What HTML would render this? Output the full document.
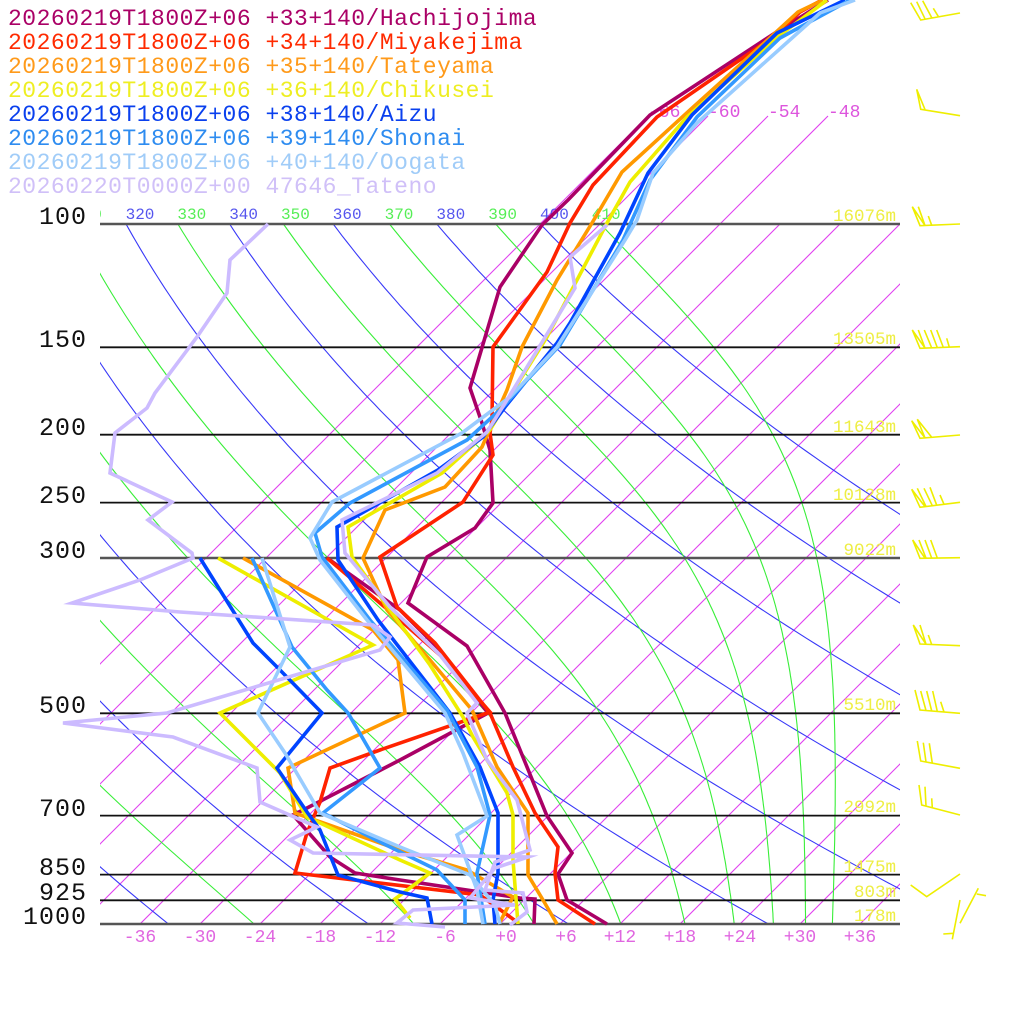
<!DOCTYPE html>
<html><head><meta charset="utf-8"><style>
html,body{margin:0;padding:0;background:#fff;}
svg{display:block;}
text{font-family:"Liberation Mono","DejaVu Sans Mono",monospace;}
</style></head><body>
<svg id="sk" xmlns="http://www.w3.org/2000/svg" width="1024" height="1024" viewBox="0 0 1024 1024">
<defs>
<clipPath id="pc"><rect x="100" y="224" width="800" height="700"/></clipPath>
<clipPath id="lc"><rect x="100" y="190" width="800" height="40"/></clipPath>
</defs>
<rect x="0" y="0" width="1024" height="1024" fill="#fff"/>
<g id="iso" clip-path="url(#pc)" stroke="#e040f0" stroke-width="1.1" fill="none"></g>
<g stroke="#e040f0" stroke-width="1.1">
<line x1="540" y1="224" x2="648" y2="116"/>
<line x1="600" y1="224" x2="708" y2="116"/>
<line x1="660" y1="224" x2="768" y2="116"/>
<line x1="720" y1="224" x2="828" y2="116"/>
</g>
<g id="dry" clip-path="url(#pc)" stroke="#3838f8" stroke-width="1.1" fill="none"></g>
<g id="moist" clip-path="url(#pc)" stroke="#38ee38" stroke-width="1.1" fill="none"></g>
<g stroke="#111" stroke-width="1.8">
<line x1="100" y1="347.3" x2="900" y2="347.3"/>
<line x1="100" y1="434.7" x2="900" y2="434.7"/>
<line x1="100" y1="502.6" x2="900" y2="502.6"/>
<line x1="100" y1="713.3" x2="900" y2="713.3"/>
<line x1="100" y1="815.6" x2="900" y2="815.6"/>
<line x1="100" y1="874.6" x2="900" y2="874.6"/>
<line x1="100" y1="900.3" x2="900" y2="900.3"/>
</g>
<g stroke="#555" stroke-width="2.5">
<line x1="100" y1="224" x2="900" y2="224"/>
<line x1="100" y1="558" x2="900" y2="558"/>
<line x1="100" y1="924" x2="900" y2="924"/>
</g>
<g font-size="16" clip-path="url(#lc)">
<text x="73" y="219" fill="#55ee55">310</text>
<text x="125.6" y="219" fill="#5555ee">320</text>
<text x="177.4" y="219" fill="#55ee55">330</text>
<text x="229.2" y="219" fill="#5555ee">340</text>
<text x="281" y="219" fill="#55ee55">350</text>
<text x="332.8" y="219" fill="#5555ee">360</text>
<text x="384.6" y="219" fill="#55ee55">370</text>
<text x="436.4" y="219" fill="#5555ee">380</text>
<text x="488.2" y="219" fill="#55ee55">390</text>
<text x="540" y="219" fill="#5555ee">400</text>
<text x="591.8" y="219" fill="#55ee55">410</text>
</g>
<g font-size="18" fill="#dd55dd">
<text x="648" y="117">-66</text>
<text x="708" y="117">-60</text>
<text x="768" y="117">-54</text>
<text x="828" y="117">-48</text>
</g>
<g font-size="18" fill="#e066e0" text-anchor="middle">
<text x="140" y="942">-36</text>
<text x="200" y="942">-30</text>
<text x="260" y="942">-24</text>
<text x="320" y="942">-18</text>
<text x="380" y="942">-12</text>
<text x="445" y="942">-6</text>
<text x="506" y="942">+0</text>
<text x="566" y="942">+6</text>
<text x="620" y="942">+12</text>
<text x="680" y="942">+18</text>
<text x="740" y="942">+24</text>
<text x="800" y="942">+30</text>
<text x="860" y="942">+36</text>
</g>
<g font-size="17.5" fill="#eeee44" text-anchor="end">
<text x="896" y="221">16076m</text>
<text x="896" y="344">13505m</text>
<text x="896" y="432">11643m</text>
<text x="896" y="500">10128m</text>
<text x="896" y="555">9022m</text>
<text x="896" y="710">5510m</text>
<text x="896" y="812">2992m</text>
<text x="896" y="872">1475m</text>
<text x="896" y="897">803m</text>
<text x="896" y="921">178m</text>
</g>
<g font-size="25" fill="#111" text-anchor="end" letter-spacing="1">
<text x="87" y="224">100</text>
<text x="87" y="347">150</text>
<text x="87" y="435">200</text>
<text x="87" y="503">250</text>
<text x="87" y="558">300</text>
<text x="87" y="713">500</text>
<text x="87" y="816">700</text>
<text x="87" y="875">850</text>
<text x="87" y="900">925</text>
<text x="87" y="924">1000</text>
</g>
<g font-size="23" letter-spacing="0.5">
<text x="8" y="25" fill="#aa0066">20260219T1800Z+06 +33+140/Hachijojima</text>
<text x="8" y="49" fill="#ff2a00">20260219T1800Z+06 +34+140/Miyakejima</text>
<text x="8" y="73" fill="#ff9a1a">20260219T1800Z+06 +35+140/Tateyama</text>
<text x="8" y="97" fill="#eeee22">20260219T1800Z+06 +36+140/Chikusei</text>
<text x="8" y="121" fill="#0a40ee">20260219T1800Z+06 +38+140/Aizu</text>
<text x="8" y="145" fill="#2e8cf0">20260219T1800Z+06 +39+140/Shonai</text>
<text x="8" y="169" fill="#a0ccf8">20260219T1800Z+06 +40+140/Oogata</text>
<text x="8" y="193" fill="#d0c0f8">20260220T0000Z+00 47646_Tateno</text>
</g>
<g fill="none" stroke-width="3.6" stroke-linejoin="miter" stroke-miterlimit="6">
<polyline stroke="#aa0066" points="828,0 775,33 650,115 568,200 542,225 500,287 470,388 482,423 490,450 493,503 475,528 427,557 408,603 467,646 505,713 547,816 572,853 558,874 567,900 607,924"/>
<polyline stroke="#aa0066" points="534,924 535,899 520,898 400,880 355,873 330,857 293,815 307,808 400,760 488,713 440,650 400,610 327,558"/>
<polyline stroke="#ff2200" points="822,0 800,12 773,37 657,117 593,185 570,223 547,272 493,347 492,420 490,433 493,455 463,502 380,557 397,607 435,643 490,713 513,767 535,813 558,847 555,873 558,900 595,924"/>
<polyline stroke="#ff2200" points="517,922 480,895 295,873 307,833 320,802 330,768 380,750 490,712 440,655 400,620 327,558"/>
<polyline stroke="#ff9900" points="823,0 798,12 773,35 690,110 622,172 592,223 557,280 522,347 507,390 495,417 482,447 445,487 385,510 363,558 387,610 430,660 472,710 497,767 528,813 528,875 543,900 557,924"/>
<polyline stroke="#ff9900" points="243,558 373,630 398,660 405,713 288,768 295,813 400,850 467,870 513,897 500,922"/>
<polyline stroke="#eeee00" points="827,0 780,35 687,117 630,182 607,223 547,337 520,380 490,430 442,473 348,527 352,557 390,610 430,665 463,717 473,737 507,793 513,815 513,860 518,924"/>
<polyline stroke="#eeee00" points="218,558 373,645 220,713 280,773 307,817 400,860 430,873 395,899 410,918"/>
<polyline stroke="#0044ff" points="845,0 777,33 692,115 648,173 620,233 570,323 557,343 505,407 483,437 438,470 337,527 338,560 378,620 450,713 480,767 498,813 498,873 493,900 495,924"/>
<polyline stroke="#0044ff" points="200,558 253,643 280,670 322,713 277,768 307,812 320,830 338,875 400,892 427,898 432,924"/>
<polyline stroke="#3399ff" points="850,0 780,38 697,117 650,180 623,240 560,345 527,380 503,407 467,440 350,503 315,533 322,557 370,620 447,710 477,767 490,815 477,873 485,924"/>
<polyline stroke="#3399ff" points="252,558 292,647 327,690 348,713 380,768 323,813 380,842 437,870 465,900 465,924"/>
<polyline stroke="#99ccff" points="855,0 820,13 697,123 653,173 637,220 625,240 557,347 510,397 462,433 332,502 310,538 320,560 367,620 445,713 463,753 487,816 457,835 477,890 483,924"/>
<polyline stroke="#99ccff" points="262,558 290,647 258,713 285,753 320,813 400,847 470,875 495,905 500,924"/>
<polyline stroke="#ccbbff" points="607,225 570,257 575,288 507,400 487,432 437,473 342,520 345,553 390,607 440,655 477,703 467,713 487,760 517,800 530,850 495,862 485,890 523,893 527,912 510,925"/>
<polyline stroke="#ccbbff" points="268,224 230,260 227,293 197,337 155,393 147,408 115,433 110,473 172,502 148,520 192,553 193,558 140,580 72,603 180,612 373,625 390,637 380,650 167,713 63,723 173,737 257,768 260,802 317,827 290,840 313,853 528,857 495,868 470,898 515,905 413,910 397,923 445,927"/>
</g>
<g stroke="#eeee00" stroke-width="1.6" fill="none">
<path d="M960,13 L920.7,20 L910.7,2.7 M925,18.8 L916.7,1.7 M931.7,17.6 L922.7,0.7 M938.3,16.4 L933.3,8.3"/>
<path d="M960,115.7 L920.7,109.3 L916.7,89.3 L925,109.6"/>
<path d="M960,224 L920,225.7 L912.3,206.7 L925,225.5 M925,225.5 L918.3,206.7 M931.7,225.3 L928.3,216"/>
<path d="M960,346.7 L920,348.3 L912.3,330 L925,348.1 M925,348.1 L918.3,330 M931.7,347.9 L924.3,330 M937.3,347.6 L930.7,330 M943.3,347.4 L936.7,330 M949.3,347.1 L946.7,338.3"/>
<path d="M960,435 L920,438.3 L911.7,420.7 L925,437.9 M925,437.9 L917.3,419.3 L931.7,437.3"/>
<path d="M960,502.3 L920,507.3 L911.7,489.3 L925,506.6 M926,506.5 L917.3,488.3 M932.3,505.7 L924,488.3 M936.7,505.2 L930,487.3 M944,504.3 L940,495"/>
<path d="M960,557.7 L920,558.3 L912.7,540 L925,558.2 M926,558.2 L919,540 M931.7,558.1 L925,540 M937.3,558 L930.7,540"/>
<path d="M960,645.7 L920,644 L913.3,625 L926,644.2 M926,644.2 L920,625 M931.7,644.5 L928.3,635"/>
<path d="M960,713.3 L920,710 L915,690 M926,710.5 L920.7,691 M931.7,711 L926.7,691 M937.3,711.4 L932.7,691 M944,712 L940.7,701.7"/>
<path d="M960,768.3 L920.7,761 L917.3,741 M926,762 L923.3,742.7 M932.3,763.2 L929.3,743.3"/>
<path d="M960,815 L921.7,805 L919,785 M926,806.1 L925,786.7 M932.3,807.7 L931.7,798.3"/>
<path d="M910.7,885 L926.7,896.7 L960,874"/>
<path d="M960,923.3 L978.3,888.3 M976.7,894 L986,895.7"/>
<path d="M960,900 L952.3,939.3 M943.3,934 L953.3,933.3"/>
</g>
</svg>
<script>
(function(){
var NS="http://www.w3.org/2000/svg";
function Y(p){return 924+304*Math.log(p/1000);}
function X(t,y){return 500+10*t+(924-y);}
function add(g,pts){var e=document.createElementNS(NS,"polyline");e.setAttribute("points",pts.join(" "));document.getElementById(g).appendChild(e);}
for(var T=-66;T<=42;T+=6){var e=document.createElementNS(NS,"line");e.setAttribute("x1",500+10*T);e.setAttribute("y1",924);e.setAttribute("x2",1200+10*T);e.setAttribute("y2",224);document.getElementById("iso").appendChild(e);}
var K=0.2857,i,p,y,pts;
for(var th=240;th<=400;th+=20){pts=[];for(i=0;i<=120;i++){p=1000*Math.exp(Math.log(0.1)*i/120);y=Y(p);var t=th*Math.pow(p/1000,K)-273.15;pts.push(X(t,y).toFixed(1)+","+y.toFixed(1));}add("dry",pts);}
function es(t){return 6.112*Math.exp(17.67*t/(t+243.5));}
function rs(t,p){var e=es(t);return 0.622*e/(p-e);}
function thE(t,p){var r=rs(t,p)*1000,T=t+273.15;return T*Math.pow(1000/p,0.2854*(1-0.00028*r))*Math.exp((3.376/T-0.00254)*r*(1+0.00081*r));}
function lap(t,p){var T=t+273.15,r=rs(t,p);return (287.04*T+2.501e6*r)/(1005.7+2.501e6*2.501e6*r*0.622/(287.04*T*T));}
for(var te=190;te<=410;te+=20){
 var lo=-110,hi=60;for(i=0;i<70;i++){var m=(lo+hi)/2;if(thE(m,1000)<te)lo=m;else hi=m;}
 var t=(lo+hi)/2,lp=Math.log(1000),N=200,h=(Math.log(100)-lp)/N;pts=[];
 for(i=0;i<=N;i++){p=Math.exp(lp);y=Y(p);pts.push(X(t,y).toFixed(1)+","+y.toFixed(1));if(i==N)break;
  var k1=lap(t,Math.exp(lp)),k2=lap(t+h*k1/2,Math.exp(lp+h/2)),k3=lap(t+h*k2/2,Math.exp(lp+h/2)),k4=lap(t+h*k3,Math.exp(lp+h));
  t+=h*(k1+2*k2+2*k3+k4)/6;lp+=h;}
 add("moist",pts);}
})();
</script>
</body></html>
